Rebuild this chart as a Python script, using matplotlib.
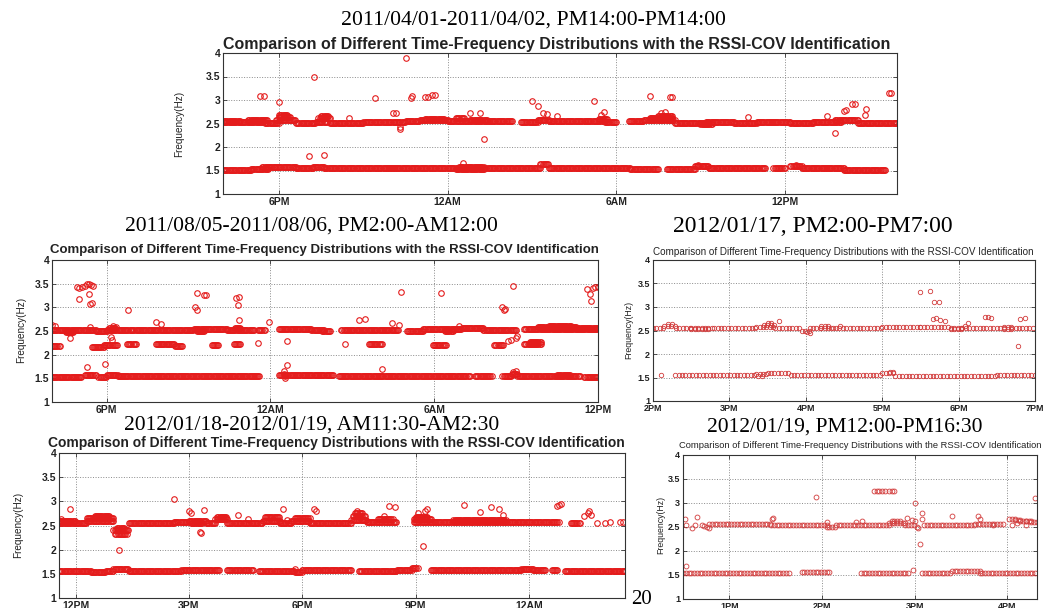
import numpy as np
import matplotlib
matplotlib.use("Agg")
import matplotlib.pyplot as plt
from matplotlib import font_manager

W, H = 1045, 608
fig = plt.figure(figsize=(W / 100, H / 100), dpi=100)

INNER_TITLE = "Comparison of Different Time-Frequency Distributions with the RSSI-COV Identification"
Y_TICKS = [1, 1.5, 2, 2.5, 3, 3.5, 4]
Y_TICKLABELS = ["1", "1.5", "2", "2.5", "3", "3.5", "4"]

_installed = {f.name for f in font_manager.fontManager.ttflist}
YLABEL_FONT = "Liberation Sans Narrow" if "Liberation Sans Narrow" in _installed else "Liberation Sans"

# ---------------- 2011/04/01-2011/04/02 (hours from midnight of day 1) ----------------
a_title = "2011/04/01-2011/04/02, PM14:00-PM14:00"
a_xlim = (16.0, 40.0)
a_xticks = [18, 24, 30, 36]
a_xticklabels = ["6PM", "12AM", "6AM", "12PM"]
a_upper_runs = [
    (16.0, 17.5, 2.53), (16.0, 16.6, 2.56), (16.9, 17.6, 2.57), (17.5, 18.0, 2.52),
    (17.9, 18.6, 2.58), (18.0, 18.4, 2.63), (18.0, 18.3, 2.69), (18.6, 19.3, 2.52),
    (19.3, 19.7, 2.54), (19.4, 19.8, 2.62), (19.5, 19.75, 2.66), (19.8, 21.0, 2.52),
    (21.0, 22.5, 2.53), (22.5, 23.0, 2.55), (23.0, 24.0, 2.58), (23.2, 23.9, 2.60),
    (24.0, 24.6, 2.55), (24.3, 24.6, 2.62), (24.6, 25.5, 2.55), (24.8, 25.4, 2.58),
    (25.5, 26.3, 2.55), (26.6, 27.2, 2.53), (27.2, 27.6, 2.57), (27.6, 29.0, 2.55),
    (29.0, 29.6, 2.56), (29.4, 29.7, 2.60), (29.6, 30.0, 2.53), (30.45, 31.0, 2.55),
    (31.0, 32.1, 2.58), (31.2, 32.0, 2.62), (31.5, 32.0, 2.67), (32.1, 33.2, 2.52),
    (33.0, 33.4, 2.48), (33.2, 34.2, 2.53), (34.2, 35.0, 2.52), (35.0, 35.5, 2.53),
    (35.5, 36.2, 2.54), (36.2, 37.0, 2.52), (37.0, 38.0, 2.54), (37.8, 38.6, 2.57),
    (38.6, 40.0, 2.52),
]
a_lower_runs = [
    (16.0, 17.0, 1.52), (17.0, 17.6, 1.54), (17.4, 17.8, 1.57), (17.8, 18.6, 1.58),
    (18.6, 19.2, 1.56), (19.2, 19.6, 1.58), (19.6, 22.0, 1.55), (22.0, 24.5, 1.56),
    (24.3, 25.3, 1.53), (24.4, 25.3, 1.58), (25.3, 27.3, 1.56), (27.3, 27.6, 1.64),
    (27.6, 30.5, 1.56), (30.5, 31.5, 1.54), (31.8, 32.8, 1.54), (32.8, 33.3, 1.60),
    (33.3, 35.3, 1.55), (35.6, 36.0, 1.55), (36.2, 36.6, 1.60), (36.6, 37.5, 1.55),
    (37.5, 38.1, 1.56), (38.1, 39.6, 1.52),
]
a_point_t = [17.3, 17.45, 18.0, 19.05, 19.25, 19.6, 20.5, 21.4, 22.05, 22.15, 22.3, 22.32,
             22.5, 22.7, 22.72, 23.2, 23.3, 23.45, 23.55, 24.55, 24.8, 25.15, 25.3, 27.0,
             27.2, 27.4, 27.55, 27.9, 29.2, 29.45, 29.55, 31.2, 31.9, 32.0, 31.6, 31.75,
             34.7, 37.5, 37.8, 38.1, 38.2, 38.4, 38.5, 38.85, 38.9, 39.7, 39.8, 32.9,
             33.1, 36.4]
a_point_f = [3.08, 3.09, 2.96, 1.80, 3.50, 1.82, 2.62, 3.05, 2.72, 2.72, 2.42, 2.38,
             3.90, 3.05, 3.09, 3.07, 3.07, 3.10, 3.10, 1.66, 2.72, 2.72, 2.18, 2.97,
             2.87, 2.72, 2.70, 2.66, 2.98, 2.68, 2.75, 3.08, 3.06, 3.07, 2.72, 2.75,
             2.63, 2.67, 2.30, 2.77, 2.78, 2.91, 2.92, 2.68, 2.80, 3.15, 3.15, 1.62,
             1.60, 1.62]

# ---------------- 2011/08/05-2011/08/06 ----------------
b_title = "2011/08/05-2011/08/06, PM2:00-AM12:00"
b_xlim = (16.0, 36.0)
b_xticks = [18, 24, 30, 36]
b_xticklabels = ["6PM", "12AM", "6AM", "12PM"]
b_upper_runs = [
    (16.0, 17.6, 2.52), (16.5, 16.8, 2.47), (17.6, 18.0, 2.49), (18.0, 18.9, 2.53),
    (18.1, 18.3, 2.56), (18.9, 21.2, 2.52), (21.2, 22.4, 2.55), (21.3, 21.6, 2.50),
    (22.4, 23.4, 2.52), (22.7, 22.9, 2.56), (23.55, 23.8, 2.52), (24.3, 25.5, 2.55),
    (25.5, 26.0, 2.52), (25.9, 26.2, 2.49), (26.6, 28.7, 2.53), (29.0, 29.6, 2.51),
    (29.6, 31.0, 2.54), (30.4, 30.7, 2.50), (31.0, 31.8, 2.56), (31.8, 33.0, 2.53),
    (33.3, 36.0, 2.55), (33.8, 35.2, 2.58), (34.2, 35.0, 2.61), (35.2, 36.0, 2.57),
]
b_middle_runs = [
    (16.0, 16.3, 2.18), (17.45, 17.9, 2.16), (17.9, 18.4, 2.20), (18.75, 19.1, 2.22),
    (19.8, 20.5, 2.22), (20.5, 20.8, 2.19), (21.85, 22.1, 2.21), (22.65, 22.9, 2.22),
    (27.6, 28.1, 2.22), (29.95, 30.45, 2.20), (32.2, 32.55, 2.20), (33.3, 33.9, 2.22),
    (33.5, 33.9, 2.26),
]
b_lower_runs = [
    (16.0, 17.1, 1.53), (17.2, 17.6, 1.56), (17.7, 18.0, 1.53), (18.0, 18.4, 1.57),
    (18.4, 23.6, 1.55), (24.3, 26.3, 1.57), (26.5, 31.3, 1.55), (31.5, 32.1, 1.55),
    (32.5, 32.85, 1.55), (32.85, 33.05, 1.60), (33.05, 35.35, 1.55), (34.5, 35.0, 1.58),
    (35.5, 36.0, 1.53),
]
b_point_t = [16.0, 16.1, 16.65, 17.0, 16.9, 17.0, 17.1, 17.2, 17.3, 17.35, 17.42, 17.5,
             17.35, 17.4, 17.45, 17.3, 17.4, 17.95, 17.4, 18.15, 18.2, 18.25, 18.35, 18.8,
             19.8, 20.0, 21.25, 21.3, 21.3, 21.55, 21.65, 22.75, 22.85, 22.8, 22.85, 23.55,
             23.95, 24.5, 24.5, 24.55, 24.55, 24.6, 24.6, 26.75, 27.25, 27.45, 28.1, 28.45,
             28.7, 28.8, 30.25, 30.9, 32.5, 32.6, 32.55, 32.9, 33.0, 33.05, 32.9, 33.0,
             35.6, 35.7, 35.75, 35.8, 35.9, 36.0, 32.7, 32.8]
b_point_f = [2.63, 2.61, 2.35, 3.18, 3.42, 3.41, 3.44, 3.46, 3.49, 3.50, 3.47, 3.45,
             3.29, 3.08, 3.10, 1.73, 1.58, 1.80, 2.58, 2.38, 2.32, 2.60, 2.58, 2.95,
             2.68, 2.64, 3.00, 2.95, 3.30, 3.27, 3.27, 3.20, 3.22, 3.05, 2.73, 2.24,
             2.68, 1.66, 1.60, 1.55, 1.50, 1.78, 2.28, 2.22, 2.73, 2.75, 1.70, 2.67,
             2.62, 3.33, 3.31, 2.60, 3.00, 2.97, 2.95, 3.46, 2.35, 2.40, 1.63, 1.66,
             3.38, 3.28, 3.13, 3.40, 3.42, 3.42, 2.28, 2.30]

# ---------------- 2012/01/17 ----------------
c_title = "2012/01/17, PM2:00-PM7:00"
c_xlim = (14.0, 19.0)
c_xticks = [14, 15, 16, 17, 18, 19]
c_xticklabels = ["2PM", "3PM", "4PM", "5PM", "6PM", "7PM"]
c_upper_runs = [
    (14.0, 14.15, 2.56), (14.15, 14.3, 2.60), (14.2, 14.27, 2.63), (14.3, 14.5, 2.56),
    (14.5, 14.75, 2.53), (14.5, 14.8, 2.56), (14.8, 15.35, 2.55), (15.35, 15.6, 2.57),
    (15.45, 15.6, 2.62), (15.5, 15.55, 2.66), (15.6, 15.95, 2.55), (15.95, 16.05, 2.50),
    (16.05, 16.2, 2.55), (16.2, 16.35, 2.56), (16.2, 16.3, 2.60), (16.35, 17.0, 2.55),
    (17.0, 17.5, 2.58), (17.5, 17.9, 2.57), (17.9, 18.05, 2.53), (17.9, 18.05, 2.56),
    (18.05, 18.6, 2.56), (18.6, 18.7, 2.53), (18.6, 18.7, 2.57), (18.7, 19.0, 2.55),
]
c_lower_runs = [
    (14.29, 15.35, 1.55), (15.35, 15.5, 1.58), (15.38, 15.45, 1.53), (15.5, 15.8, 1.59),
    (15.8, 17.0, 1.56), (17.0, 17.15, 1.60), (17.1, 17.17, 1.62), (17.17, 18.5, 1.54),
    (18.5, 19.0, 1.55),
]
c_point_t = [15.65, 16.02, 16.05, 16.45, 17.49, 17.62, 17.68, 17.74, 17.66, 17.7, 17.75,
             17.82, 18.08, 18.12, 18.34, 18.38, 18.43, 18.78, 18.8, 18.87, 14.1]
c_point_f = [2.70, 2.47, 2.44, 2.60, 3.32, 3.33, 3.10, 3.11, 2.75, 2.76, 2.72,
             2.70, 2.60, 2.67, 2.78, 2.78, 2.77, 2.18, 2.75, 2.77, 1.55]

# ---------------- 2012/01/18-2012/01/19 ----------------
d_title = "2012/01/18-2012/01/19, AM11:30-AM2:30"
d_xlim = (11.56, 26.54)
d_xticks = [12, 15, 18, 21, 24]
d_xticklabels = ["12PM", "3PM", "6PM", "9PM", "12AM"]
d_upper_runs = [
    (11.56, 12.3, 2.56), (11.56, 12.0, 2.59), (12.3, 13.0, 2.60), (12.3, 13.0, 2.65),
    (12.5, 12.9, 2.69), (13.0, 13.4, 2.40), (13.05, 13.35, 2.33), (13.1, 13.3, 2.45),
    (13.4, 14.6, 2.55), (14.6, 15.0, 2.57), (15.0, 15.45, 2.60), (15.05, 15.35, 2.56),
    (15.45, 15.7, 2.56), (15.7, 16.0, 2.63), (15.75, 16.0, 2.67), (16.0, 16.95, 2.56),
    (16.95, 17.4, 2.60), (17.0, 17.4, 2.67), (17.4, 17.7, 2.55), (17.7, 18.2, 2.60),
    (17.8, 18.2, 2.66), (18.2, 19.3, 2.56), (19.3, 19.7, 2.62), (19.35, 19.65, 2.70),
    (19.4, 19.6, 2.76), (19.7, 20.5, 2.58), (20.0, 20.4, 2.63), (20.95, 21.5, 2.58),
    (20.95, 21.4, 2.63), (21.0, 21.3, 2.68), (21.5, 22.5, 2.58), (22.0, 23.4, 2.62),
    (22.5, 24.8, 2.57), (25.1, 25.35, 2.55),
]
d_lower_runs = [
    (11.56, 12.4, 1.55), (12.4, 12.8, 1.53), (12.8, 13.0, 1.55), (13.0, 13.4, 1.59),
    (13.4, 14.8, 1.56), (14.8, 15.5, 1.58), (15.5, 15.8, 1.57), (16.0, 16.7, 1.57),
    (16.85, 17.8, 1.56), (17.8, 18.0, 1.54), (18.0, 19.3, 1.57), (19.5, 20.5, 1.55),
    (20.5, 20.9, 1.58), (20.9, 21.05, 1.62), (21.4, 23.8, 1.57), (23.8, 24.1, 1.61),
    (24.1, 24.45, 1.57), (24.6, 24.75, 1.58), (24.95, 26.54, 1.56),
]
d_point_t = [11.6, 11.85, 13.15, 14.6, 15.0, 15.05, 15.3, 15.32, 15.4, 16.3, 16.57, 17.6,
             18.3, 18.35, 19.45, 20.15, 20.3, 20.45, 21.05, 21.2, 21.25, 21.3, 22.27, 22.7,
             23.0, 23.2, 23.3, 24.75, 24.8, 24.85, 25.45, 25.55, 25.6, 25.65, 25.8, 26.0,
             26.15, 26.4, 26.5, 17.5, 17.8]
d_point_f = [2.63, 2.85, 2.00, 3.05, 2.80, 2.75, 2.37, 2.35, 2.82, 2.72, 2.63, 2.62,
             2.85, 2.80, 2.80, 2.70, 2.90, 2.88, 2.75, 2.07, 2.80, 2.85, 2.92, 2.78,
             2.88, 2.85, 2.72, 2.90, 2.93, 2.95, 2.70, 2.75, 2.80, 2.72, 2.55, 2.55,
             2.57, 2.57, 2.57, 2.85, 1.60]

# ---------------- 2012/01/19 ----------------
e_title = "2012/01/19, PM12:00-PM16:30"
e_xlim = (12.5, 16.32)
e_xticks = [13, 14, 15, 16]
e_xticklabels = ["1PM", "2PM", "3PM", "4PM"]
e_upper_runs = [
    (12.78, 13.45, 2.56), (13.45, 14.05, 2.55), (14.05, 14.15, 2.51), (14.15, 14.72, 2.55),
    (14.72, 14.9, 2.58), (14.75, 14.85, 2.62), (14.9, 15.0, 2.55), (15.1, 15.65, 2.55),
    (15.65, 15.95, 2.56), (16.02, 16.08, 2.67), (16.08, 16.14, 2.65), (16.14, 16.2, 2.63),
    (16.2, 16.26, 2.62), (16.26, 16.32, 2.60), (14.56, 14.7, 3.24), (14.72, 14.78, 3.25),
]
e_lower_runs = [
    (12.5, 13.64, 1.55), (13.78, 14.1, 1.57), (14.42, 14.94, 1.55), (15.08, 15.4, 1.55),
    (15.4, 15.7, 1.58), (15.7, 16.32, 1.55),
]
e_point_t = [12.52, 12.53, 12.6, 12.63, 12.65, 12.7, 12.73, 12.76, 12.78, 13.46, 13.47,
             13.93, 14.05, 14.37, 14.43, 14.92, 14.97, 15.0, 15.0, 15.02, 15.04, 15.06,
             15.08, 15.08, 15.4, 15.68, 15.71, 15.85, 16.3, 16.05, 16.1, 16.2, 12.53, 14.98]
e_point_f = [2.66, 2.55, 2.48, 2.55, 2.70, 2.55, 2.53, 2.50, 2.47, 2.67, 2.68,
             3.12, 2.60, 2.60, 2.62, 2.68, 2.65, 3.00, 2.63, 2.50, 2.48, 2.15,
             2.80, 2.66, 2.73, 2.72, 2.67, 2.55, 3.10, 2.55, 2.58, 2.55, 1.68, 1.60]


def expand(runs, step):
    """Turn (start, end, level) runs into individual samples at the logging interval."""
    ts, fs = [], []
    for t0, t1, f in runs:
        t = np.arange(t0, t1 + 1e-9, step)
        ts.append(t)
        fs.append(np.full(t.size, f))
    return np.concatenate(ts), np.concatenate(fs)


def fig_xy(x, y):
    return x / W, 1 - y / H


def fit_text(t, size_px, vertical=False):
    r = fig.canvas.get_renderer()
    bb = t.get_window_extent(r)
    cur = bb.height if vertical else bb.width
    t.set_fontsize(t.get_fontsize() * size_px / cur)


def panel(box, runs_list, pts_t, pts_f, xlim, xticks, xticklabels, step,
          outer, inner, ylab, title, color, ms, mew, tick_fs, title_weight):
    l, t, r, b = box
    ax = fig.add_axes([l / W, 1 - b / H, (r - l) / W, (b - t) / H])
    for runs in runs_list:
        x, y = expand(runs, step)
        ax.plot(x, y, "o", ls="none", mfc="none", mec=color, ms=ms, mew=mew)
    ax.plot(pts_t, pts_f, "o", ls="none", mfc="none", mec=color, ms=ms, mew=mew)
    ax.set_xlim(*xlim)
    ax.set_ylim(1, 4)
    ax.set_xticks(xticks)
    ax.set_xticklabels(xticklabels)
    ax.set_yticks(Y_TICKS)
    ax.set_yticklabels(Y_TICKLABELS)
    ax.grid(True, ls=":", color="#8a8a8a", lw=0.7)
    ax.set_axisbelow(True)
    ax.tick_params(direction="in", length=3, width=0.6, color="#333333",
                   labelsize=tick_fs, pad=2, top=True, right=True)
    for lab in ax.get_xticklabels() + ax.get_yticklabels():
        lab.set_fontfamily("Liberation Sans")
        lab.set_fontweight("bold")
        lab.set_color("#222222")
    for s in ax.spines.values():
        s.set_color("#333333")
        s.set_linewidth(0.8)

    ox, oy, ow = outer
    tt = fig.text(*fig_xy(ox, oy), title, ha="center", va="center",
                  family="Liberation Serif", fontsize=14, color="black")
    fit_text(tt, ow)
    ix, iy, iw = inner
    it = fig.text(*fig_xy(ix, iy), INNER_TITLE, ha="center", va="center",
                  family="Liberation Sans", fontweight=title_weight, fontsize=7,
                  color="#222222")
    fit_text(it, iw)
    yx, yy, yfs = ylab
    fig.text(*fig_xy(yx, yy), "Frequency(Hz)", ha="center", va="center", rotation=90,
             family=YLABEL_FONT, fontsize=yfs, color="#222222")
    return ax


RED = "#e41c1c"
RED_THIN = "#d23c3c"

specs = [
    ((223, 53, 897, 194), [a_upper_runs, a_lower_runs], a_point_t, a_point_f, a_xlim,
     a_xticks, a_xticklabels, 0.04, (533, 20, 387), (557, 44, 670), (179, 124, 7.2),
     a_title, RED, 4.0, 0.8, 7.5, "bold"),
    ((52, 260, 598, 402), [b_upper_runs, b_middle_runs, b_lower_runs], b_point_t, b_point_f,
     b_xlim, b_xticks, b_xticklabels, 0.04, (311, 226, 375), (324, 250, 552), (21, 330, 7.2),
     b_title, RED, 4.0, 0.8, 7.5, "bold"),
    ((653, 260, 1035, 401), [c_upper_runs, c_lower_runs], c_point_t, c_point_f, c_xlim,
     c_xticks, c_xticklabels, 0.045, (813, 226, 283), (843, 252, 383), (629, 330, 6.3),
     c_title, RED_THIN, 3.2, 0.6, 6.5, "normal"),
    ((59, 453, 625, 598), [d_upper_runs, d_lower_runs], d_point_t, d_point_f, d_xlim,
     d_xticks, d_xticklabels, 0.03, (312, 425, 378), (336, 443, 577), (18, 525, 7.2),
     d_title, RED, 4.0, 0.8, 7.5, "bold"),
    ((683, 455, 1037, 599), [e_upper_runs, e_lower_runs], e_point_t, e_point_f, e_xlim,
     e_xticks, e_xticklabels, 0.03, (845, 427, 279), (860, 446, 360), (661, 525, 6.3),
     e_title, RED_THIN, 3.5, 0.6, 6.5, "normal"),
]

for spec in specs:
    panel(*spec)

# page number
fig.text(*fig_xy(641, 599), "20", ha="center", va="center",
         family="Liberation Serif", fontsize=15, color="black")

fig.savefig("out.png", dpi=100, facecolor="white")
